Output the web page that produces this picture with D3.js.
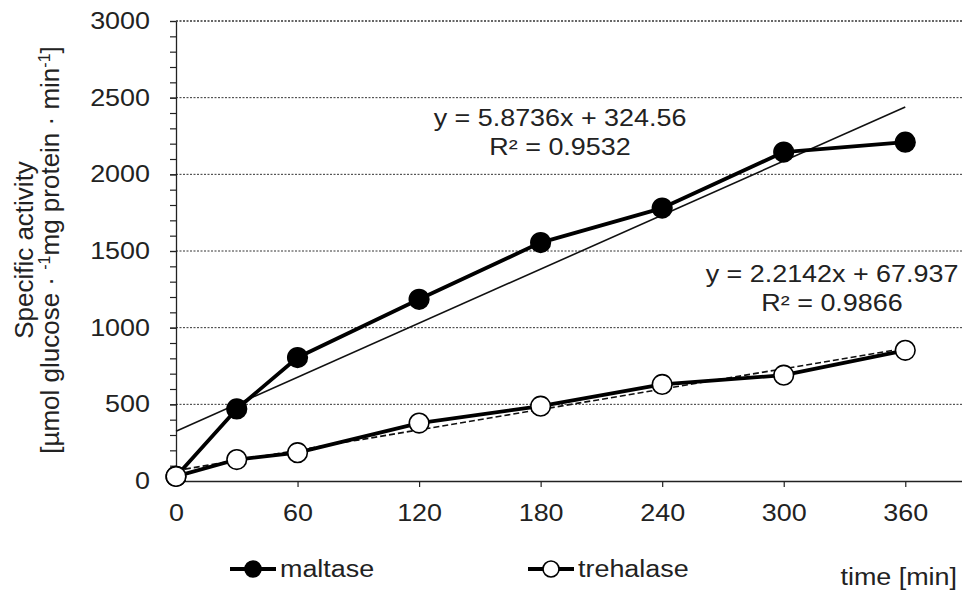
<!DOCTYPE html>
<html lang="en">
<head>
<meta charset="UTF-8">
<title>Specific activity over time</title>
<script src="https://d3js.org/d3.v7.min.js"></script>
<style>
    html, body {
        margin: 0;
        background: #fff;
    }
    svg text {
        font-family: "Liberation Sans", Arial, sans-serif;
        fill: #222;
    }
</style>
</head>
<body>
<div id="vis"></div>
<script>

    // data
    var times = [0, 30, 60, 120, 180, 240, 300, 360];
    var maltase = [30, 470, 805, 1185, 1555, 1780, 2145, 2210];
    var trehalase = [30, 140, 185, 378, 488, 630, 690, 852];

    // linear fits as printed on the chart
    var fitSlopes = [5.8736, 2.2142];
    var fitIntercepts = [324.56, 67.937];
    var fitLabels = [["y = 5.8736x + 324.56", "R² = 0.9532"],
                     ["y = 2.2142x + 67.937", "R² = 0.9866"]];

    var xTicks = [0, 60, 120, 180, 240, 300, 360];
    var yTicks = [0, 500, 1000, 1500, 2000, 2500, 3000];
    var yMinorTicks = d3.range(0, 3001, 100);

    var W = 962, H = 593;
    var plotLeft = 176, plotTop = 21, plotBottom = 481;
    var sx = 1.17; // the figure's text is a bit wider than tall

    var svg = d3.select('#vis').append('svg')
        .attr('width', W)
        .attr('height', H);

    var x = d3.scaleLinear().domain([0, 388]).range([plotLeft, W]);
    var y = d3.scaleLinear().domain([0, 3000]).range([plotBottom, plotTop]);

    // dotted gridlines
    svg.append('g')
        .selectAll('line')
        .data(yTicks.filter(function(d) { return d > 0; }))
        .enter().append('line')
            .attr('x1', plotLeft)
            .attr('x2', W)
            .attr('y1', function(d) { return y(d); })
            .attr('y2', function(d) { return y(d); })
            .attr('stroke', '#333')
            .attr('stroke-width', function(d) { return d == 3000 ? 1.6 : 1; })
            .attr('stroke-dasharray', '2,1.5');

    // y axis, minor ticks then major ticks with labels
    svg.append('g')
        .attr('transform', 'translate(' + plotLeft + ',0)')
        .call(d3.axisLeft(y).tickValues(yMinorTicks).tickSize(6).tickFormat(''))
        .call(function(g) { g.select('.domain').remove(); });

    var yAxis = svg.append('g')
        .attr('transform', 'translate(' + plotLeft + ',0)')
        .call(d3.axisLeft(y).tickValues(yTicks).tickSize(6).tickSizeOuter(0)
            .tickFormat(function(d) { return d; }));
    yAxis.selectAll('text')
        .attr('x', null)
        .attr('transform', 'translate(-26,0) scale(' + sx + ',1)')
        .style('font-size', '23px')
        .attr('fill', '#222');

    var xAxis = svg.append('g')
        .attr('transform', 'translate(0,' + plotBottom + ')')
        .call(d3.axisBottom(x).tickValues(xTicks).tickSize(6).tickSizeOuter(0).tickPadding(18));
    xAxis.selectAll('text')
        .attr('transform', 'scale(' + sx + ',1)')
        .style('font-size', '23px')
        .attr('fill', '#222');

    svg.selectAll('.domain').attr('stroke', '#222').attr('stroke-width', 1.3);
    svg.selectAll('.tick line').attr('stroke', '#222').attr('stroke-width', 1.2);

    // trend lines
    var fitStyles = [null, '6,3'];
    fitSlopes.forEach(function(m, i) {
        svg.append('line')
            .attr('x1', x(0))
            .attr('y1', y(fitIntercepts[i]))
            .attr('x2', x(360))
            .attr('y2', y(m * 360 + fitIntercepts[i]))
            .attr('stroke', '#111')
            .attr('stroke-width', 1.6)
            .attr('stroke-dasharray', fitStyles[i]);
    });

    var line = d3.line()
        .x(function(d) { return x(d[0]); })
        .y(function(d) { return y(d[1]); });

    var series = [
        {name: 'maltase', values: maltase, fill: '#000'},
        {name: 'trehalase', values: trehalase, fill: '#fff'}
    ];

    series.forEach(function(s) {
        var pts = times.map(function(t, i) { return [t, s.values[i]]; });
        svg.append('path')
            .attr('d', line(pts))
            .attr('fill', 'none')
            .attr('stroke', '#000')
            .attr('stroke-width', 3.8)
            .attr('stroke-linejoin', 'round');
        svg.append('g').selectAll('circle')
            .data(pts)
            .enter().append('circle')
                .attr('cx', function(d) { return x(d[0]); })
                .attr('cy', function(d) { return y(d[1]); })
                .attr('r', 9.8)
                .attr('fill', s.fill)
                .attr('stroke', '#000')
                .attr('stroke-width', 1.6);
    });

    // regression labels
    var labelPos = [[560, 126], [832, 282]];
    fitLabels.forEach(function(lines, i) {
        lines.forEach(function(t, j) {
            svg.append('text')
                .attr('transform', 'translate(' + labelPos[i][0] + ',' + (labelPos[i][1] + j * 29) + ') scale(' + sx + ',1)')
                .attr('text-anchor', 'middle')
                .style('font-size', '23px')
                .text(t);
        });
    });

    // y axis title
    var yTitle = svg.append('text')
        .attr('transform', 'translate(33,250) rotate(-90)')
        .attr('text-anchor', 'middle')
        .style('font-size', '26px');
    yTitle.append('tspan').attr('x', 0).attr('dy', 0).text('Specific activity');
    var l2 = yTitle.append('tspan').attr('x', 0).attr('dy', 26);
    l2.append('tspan').text('[µmol glucose · ');
    l2.append('tspan').attr('dy', -9).style('font-size', '16px').text('-1');
    l2.append('tspan').attr('dy', 9).text('mg protein · min');
    l2.append('tspan').attr('dy', -9).style('font-size', '16px').text('-1');
    l2.append('tspan').attr('dy', 9).text(']');

    // x axis title
    svg.append('text')
        .attr('transform', 'translate(957,585) scale(' + sx + ',1)')
        .attr('text-anchor', 'end')
        .style('font-size', '23px')
        .text('time [min]');

    // legend
    var legendX = [230, 528];
    series.forEach(function(s, i) {
        var g = svg.append('g').attr('transform', 'translate(' + legendX[i] + ',569)');
        g.append('line')
            .attr('x1', 0).attr('x2', 46)
            .attr('stroke', '#000').attr('stroke-width', 4);
        g.append('circle')
            .attr('cx', 23).attr('r', 8)
            .attr('fill', s.fill).attr('stroke', '#000').attr('stroke-width', 1.6);
        g.append('text')
            .attr('transform', 'translate(50,8) scale(' + sx + ',1)')
            .style('font-size', '23px')
            .text(s.name);
    });

</script>
</body>
</html>
